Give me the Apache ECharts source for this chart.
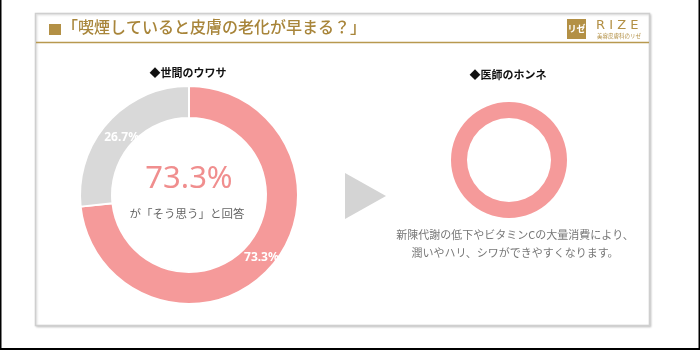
<!DOCTYPE html>
<html>
<head>
<meta charset="utf-8">
<script src="https://cdn.jsdelivr.net/npm/echarts@6/dist/echarts.min.js"></script>
<style>
html,body{margin:0;padding:0;background:#fff;}
#c{width:700px;height:350px;}
</style>
</head>
<body>
<div id="c"></div>
<script>
// ---- data ----
const pageTitle = '「喫煙していると皮膚の老化が早まる？」';
const leftTitle = '◆世間のウワサ';
const rightTitle = '◆医師のホンネ';
const categories = ['そう思う', 'そう思わない'];
const publicValues = [73.3, 26.7];
const doctorCategories = ['そう思う'];
const doctorValues = [100];
const centerNote = 'が「そう思う」と回答';
const doctorNote = ['新陳代謝の低下やビタミンCの大量消費により、', '潤いやハリ、シワができやすくなります。'];

const FONT = '"Noto Sans CJK JP", "Noto Sans", sans-serif';
const PINK = '#f59a9a';
const GRAY = '#d9d9d9';
const GOLD = '#b39045';

const chart = echarts.init(document.getElementById('c'), null, {renderer: 'canvas'});
chart.setOption({
  backgroundColor: '#fff',
  animation: false,
  textStyle: {fontFamily: FONT},
  graphic: [
    // outer frame lines
    {type: 'line', shape: {x1: 0.5, y1: 0, x2: 0.5, y2: 350}, style: {stroke: '#000', lineWidth: 2}},
    {type: 'line', shape: {x1: 699.5, y1: 0, x2: 699.5, y2: 350}, style: {stroke: '#000', lineWidth: 2}},
    {type: 'line', shape: {x1: 0, y1: 349, x2: 700, y2: 349}, style: {stroke: '#000', lineWidth: 2}},
    // card
    {type: 'rect', z: -10, shape: {x: 35.5, y: 13.5, width: 614, height: 312},
      style: {fill: '#fff', stroke: '#cfcfcf', lineWidth: 1.5, shadowBlur: 2, shadowColor: 'rgba(0,0,0,0.15)', shadowOffsetX: 1, shadowOffsetY: 1}},
    // header
    {type: 'rect', shape: {x: 49, y: 24, width: 12, height: 11}, style: {fill: GOLD}},
    {type: 'text', left: 62, top: 19, style: {text: pageTitle, font: '500 16px ' + FONT, fill: '#a8853a'}},
    {type: 'line', shape: {x1: 36, y1: 42.5, x2: 649, y2: 42.5}, style: {stroke: '#b8994f', lineWidth: 1.5}},
    // logo
    {type: 'rect', shape: {x: 567, y: 19, width: 19, height: 20}, style: {fill: GOLD}},
    {type: 'text', x: 576.5, y: 29, style: {text: 'リゼ', font: 'bold 9px ' + FONT, fill: '#fff', align: 'center', verticalAlign: 'middle'}},
    {type: 'text', x: 596, y: 26, style: {text: 'R I Z E', font: '13px "DejaVu Sans", sans-serif', fill: GOLD, verticalAlign: 'middle'}},
    {type: 'text', x: 597, y: 35.5, style: {text: '美容皮膚科のリゼ', font: '5.5px ' + FONT, fill: GOLD, verticalAlign: 'middle'}},
    // sub-titles
    {type: 'text', x: 188, y: 73, style: {text: leftTitle, font: 'bold 11px ' + FONT, fill: '#111', align: 'center', verticalAlign: 'middle'}},
    {type: 'text', x: 508, y: 75, style: {text: rightTitle, font: 'bold 11px ' + FONT, fill: '#111', align: 'center', verticalAlign: 'middle'}},
    // center text
    {type: 'text', x: 189, y: 179, style: {text: publicValues[0].toFixed(1) + '%', font: '31px "Noto Sans", sans-serif', fill: '#f08e8e', align: 'center', verticalAlign: 'middle'}},
    {type: 'text', x: 187, y: 214, style: {text: centerNote, font: '11.5px ' + FONT, fill: '#666', align: 'center', verticalAlign: 'middle'}},
    // arrow triangle
    {type: 'polygon', shape: {points: [[345, 173], [386, 196], [345, 219]]}, style: {fill: '#d4d4d4'}},
    // doctor note
    {type: 'text', x: 515, y: 235, style: {text: doctorNote[0], font: '11px ' + FONT, fill: '#777', align: 'center', verticalAlign: 'middle'}},
    {type: 'text', x: 515, y: 253, style: {text: doctorNote[1], font: '11px ' + FONT, fill: '#777', align: 'center', verticalAlign: 'middle'}}
  ],
  series: [
    {
      type: 'pie',
      center: [189, 195],
      radius: [77, 109],
      startAngle: 90,
      clockwise: true,
      silent: true,
      itemStyle: {borderColor: '#fff', borderWidth: 2},
      label: {show: true, position: 'inside', formatter: '{c}%', color: '#fff', fontSize: 12, fontWeight: 'bold', fontFamily: '"Noto Sans", sans-serif'},
      labelLine: {show: false},
      color: [PINK, GRAY],
      data: categories.map((n, i) => ({
        name: n,
        value: publicValues[i],
        label: i === 1 ? {offset: [4, 7]} : {offset: [1, -2]}
      }))
    },
    {
      type: 'pie',
      center: [509, 160],
      radius: [42, 58],
      silent: true,
      label: {show: false},
      labelLine: {show: false},
      color: [PINK],
      data: doctorCategories.map((n, i) => ({name: n, value: doctorValues[i]}))
    }
  ]
});
</script>
</body>
</html>
